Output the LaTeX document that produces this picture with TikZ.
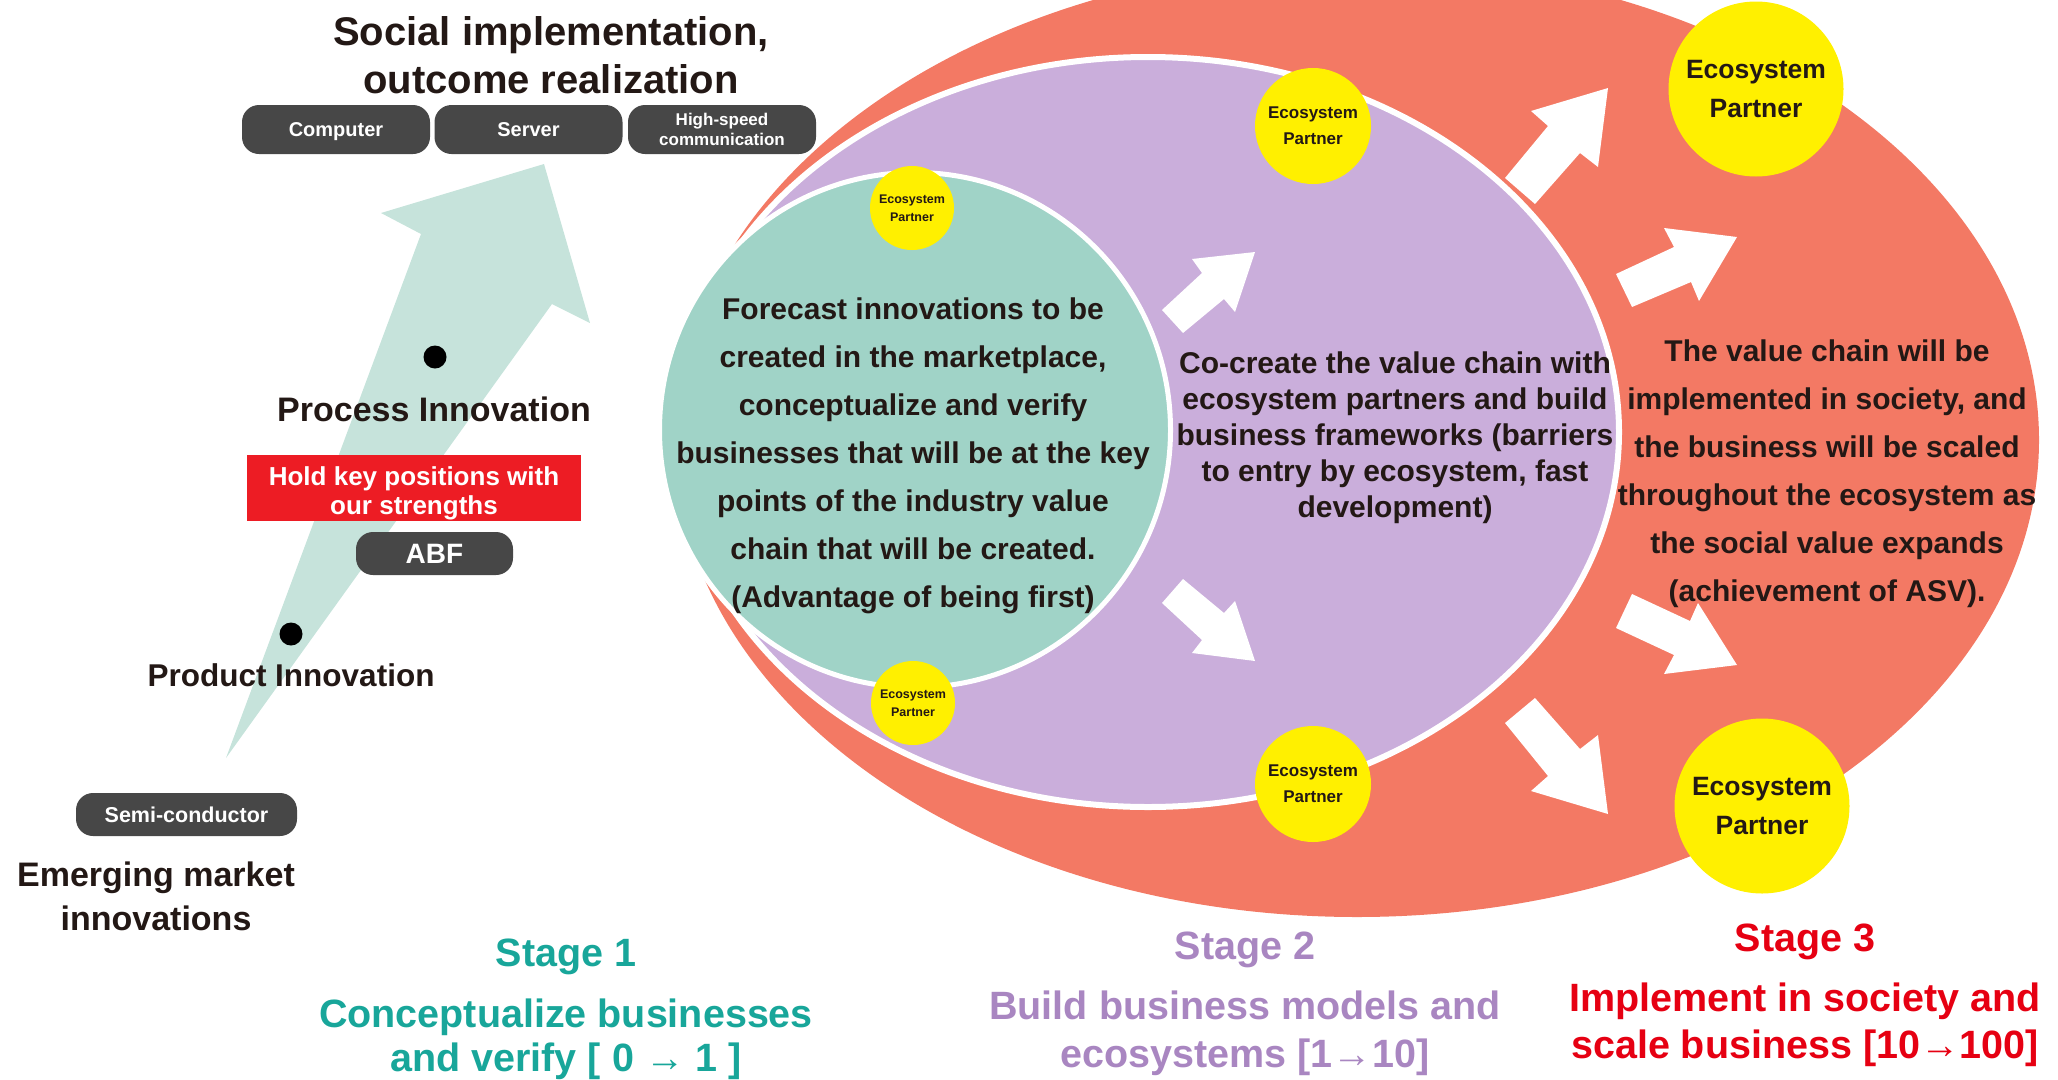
\documentclass[tikz,border=0pt]{standalone}
\usepackage{fontspec}
\setmainfont{Liberation Sans}
\usetikzlibrary{shapes.geometric}

\definecolor{ink}{RGB}{35,24,21}
\definecolor{zonered}{RGB}{243,121,100}
\definecolor{zonepurple}{RGB}{202,174,219}
\definecolor{zoneteal}{RGB}{160,211,199}
\definecolor{risearrow}{RGB}{198,227,219}
\definecolor{partneryellow}{RGB}{255,240,0}
\definecolor{pillgray}{RGB}{71,71,71}
\definecolor{keyred}{RGB}{237,28,36}
\definecolor{stageone}{RGB}{24,166,154}
\definecolor{stagetwo}{RGB}{169,134,193}
\definecolor{stagethree}{RGB}{230,0,18}

\begin{document}
\begin{tikzpicture}[x=1pt,y=-1pt,
  fs/.style={font=\bfseries\fontsize{#1}{#1}\selectfont},
  lbl/.style={anchor=base, inner sep=0pt, outer sep=0pt, text=ink},
  zone/.style={ellipse, inner sep=0pt, outer sep=0pt},
  partner/.style={circle, fill=partneryellow, inner sep=0pt, minimum size=#1, text=ink, align=center},
  pill/.style={rectangle, rounded corners=17pt, fill=pillgray, text=white, inner sep=0pt},
  wedge/.style={fill=white},
]
\useasboundingbox (0,0) rectangle (2058,1079);
\clip (0,0) rectangle (2058,1079);

% ---------- nested stage zones ----------
\node[zone, fill=zonered, minimum width=1364pt, minimum height=954pt] (scalezone) at (1357,440) {};
\node[zone, fill=zonepurple, draw=white, line width=6pt, minimum width=942pt, minimum height=750pt] (buildzone) at (1148,432) {};
\node[zone, fill=zoneteal, draw=white, line width=5pt, minimum width=511pt, minimum height=515pt] (conceptzone) at (915,430) {};

% ---------- outward block arrows ----------
\fill[wedge] (1162,310) -- (1202,273) -- (1192,259) -- (1255,252) -- (1235,312) -- (1224,299) -- (1183,333) -- cycle;
\fill[wedge] (1183,579) -- (1224,613) -- (1235,601) -- (1255,661) -- (1192,653) -- (1202,640) -- (1162,603) -- cycle;
\fill[wedge] (1505,178) -- (1548,126) -- (1531,111) -- (1608,88) -- (1598,167) -- (1580,153) -- (1535,204) -- cycle;
\fill[wedge] (1616,274) -- (1674,247) -- (1664,228) -- (1737,237) -- (1699,301) -- (1691,282) -- (1632,307) -- cycle;
\fill[wedge] (1632,594) -- (1690,621) -- (1698,603) -- (1737,665) -- (1664,674) -- (1674,655) -- (1616,628) -- cycle;
\fill[wedge] (1535,698) -- (1580,749) -- (1598,735) -- (1608,814) -- (1531,791) -- (1548,776) -- (1505,723) -- cycle;

% ---------- ecosystem partners ----------
\node[partner=84pt, font=\bfseries\fontsize{12.5}{18}\selectfont] (ecoA) at (912,208) {Ecosystem\\Partner};
\node[partner=84pt, font=\bfseries\fontsize{12.5}{18}\selectfont] (ecoB) at (913,703) {Ecosystem\\Partner};
\node[partner=116pt, font=\bfseries\fontsize{17}{26}\selectfont] (ecoC) at (1313,126) {Ecosystem\\Partner};
\node[partner=116pt, font=\bfseries\fontsize{17}{26}\selectfont] (ecoD) at (1313,784) {Ecosystem\\Partner};
\node[partner=175pt, font=\bfseries\fontsize{26.5}{39}\selectfont] (ecoE) at (1756,89) {Ecosystem\\Partner};
\node[partner=175pt, font=\bfseries\fontsize{26.5}{39}\selectfont] (ecoF) at (1762,806) {Ecosystem\\Partner};

% ---------- zone descriptions ----------
\foreach \tline [count=\i] in {{Forecast innovations to be},{created in the marketplace,},{conceptualize and verify},{businesses that will be at the key},{points of the industry value},{chain that will be created.},{(Advantage of being first)}}
  \node[lbl, fs=30, name=concept\i] at (913,{319+48*(\i-1)}) {\tline};

\foreach \tline [count=\i] in {{Co-create the value chain with},{ecosystem partners and build},{business frameworks (barriers},{to entry by ecosystem, fast},{development)}}
  \node[lbl, fs=30, name=build\i] at (1395,{373+36*(\i-1)}) {\tline};

\foreach \tline [count=\i] in {{The value chain will be},{implemented in society, and},{the business will be scaled},{throughout the ecosystem as},{the social value expands},{(achievement of ASV).}}
  \node[lbl, fs=30, name=scale\i] at (1827,{361+48*(\i-1)}) {\tline};

% ---------- innovation path on the left ----------
\fill[risearrow] (544,164) -- (381,213) -- (421,234) -- (226,758) -- (552,304) -- (590,323) -- cycle;

\node[lbl, fs=40] (title1) at (551,45) {Social implementation,};
\node[lbl, fs=40] (title2) at (551,93) {outcome realization};

\node[pill, minimum width=188pt, minimum height=49pt, fs=20, text height=14.3pt, text depth=0pt] (computer) at (336,129.5) {Computer};
\node[pill, minimum width=188pt, minimum height=49pt, fs=20, text height=14.3pt, text depth=0pt] (server) at (528.5,129.5) {Server};
\node[pill, minimum width=188pt, minimum height=49pt, font=\bfseries\fontsize{17}{20}\selectfont, align=center] (highspeed) at (722,129.5) {High-speed\\communication};

\node[circle, fill=black, minimum size=23pt, inner sep=0pt] (procdot) at (435,357) {};
\node[lbl, fs=34] (process) at (434,421) {Process Innovation};

\node[rectangle, fill=keyred, minimum width=334pt, minimum height=66pt, inner sep=0pt] (keybox) at (414,488) {};
\node[lbl, fs=26, text=white] (key1) at (414,485) {Hold key positions with};
\node[lbl, fs=26, text=white] (key2) at (414,514) {our strengths};

\node[pill, minimum width=157pt, minimum height=43pt, fs=28, text height=20pt, text depth=0pt] (abf) at (434.5,553.5) {ABF};

\node[circle, fill=black, minimum size=23pt, inner sep=0pt] (proddot) at (291,634) {};
\node[lbl, fs=31.5] (product) at (291,686) {Product Innovation};

\node[pill, minimum width=221pt, minimum height=43pt, fs=21.5, text height=15.4pt, text depth=0pt] (semi) at (186.5,814.5) {Semi-conductor};

\node[lbl, fs=34] (emerge1) at (156,886) {Emerging market};
\node[lbl, fs=34] (emerge2) at (156,930) {innovations};

% ---------- stage captions ----------
\node[lbl, fs=39.5, text=stageone] (s1a) at (566,966) {Stage 1};
\node[lbl, fs=39.5, text=stageone] (s1b) at (566,1027) {Conceptualize businesses};
\node[lbl, fs=39.5, text=stageone] (s1c) at (566,1071) {and verify [ 0 → 1 ]};

\node[lbl, fs=39.5, text=stagetwo] (s2a) at (1245,959) {Stage 2};
\node[lbl, fs=39.5, text=stagetwo] (s2b) at (1245,1019) {Build business models and};
\node[lbl, fs=39.5, text=stagetwo] (s2c) at (1245,1067) {ecosystems [1→10]};

\node[lbl, fs=39.5, text=stagethree] (s3a) at (1805,951) {Stage 3};
\node[lbl, fs=39.5, text=stagethree] (s3b) at (1805,1011) {Implement in society and};
\node[lbl, fs=39.5, text=stagethree] (s3c) at (1805,1058) {scale business [10→100]};
\end{tikzpicture}
\end{document}
